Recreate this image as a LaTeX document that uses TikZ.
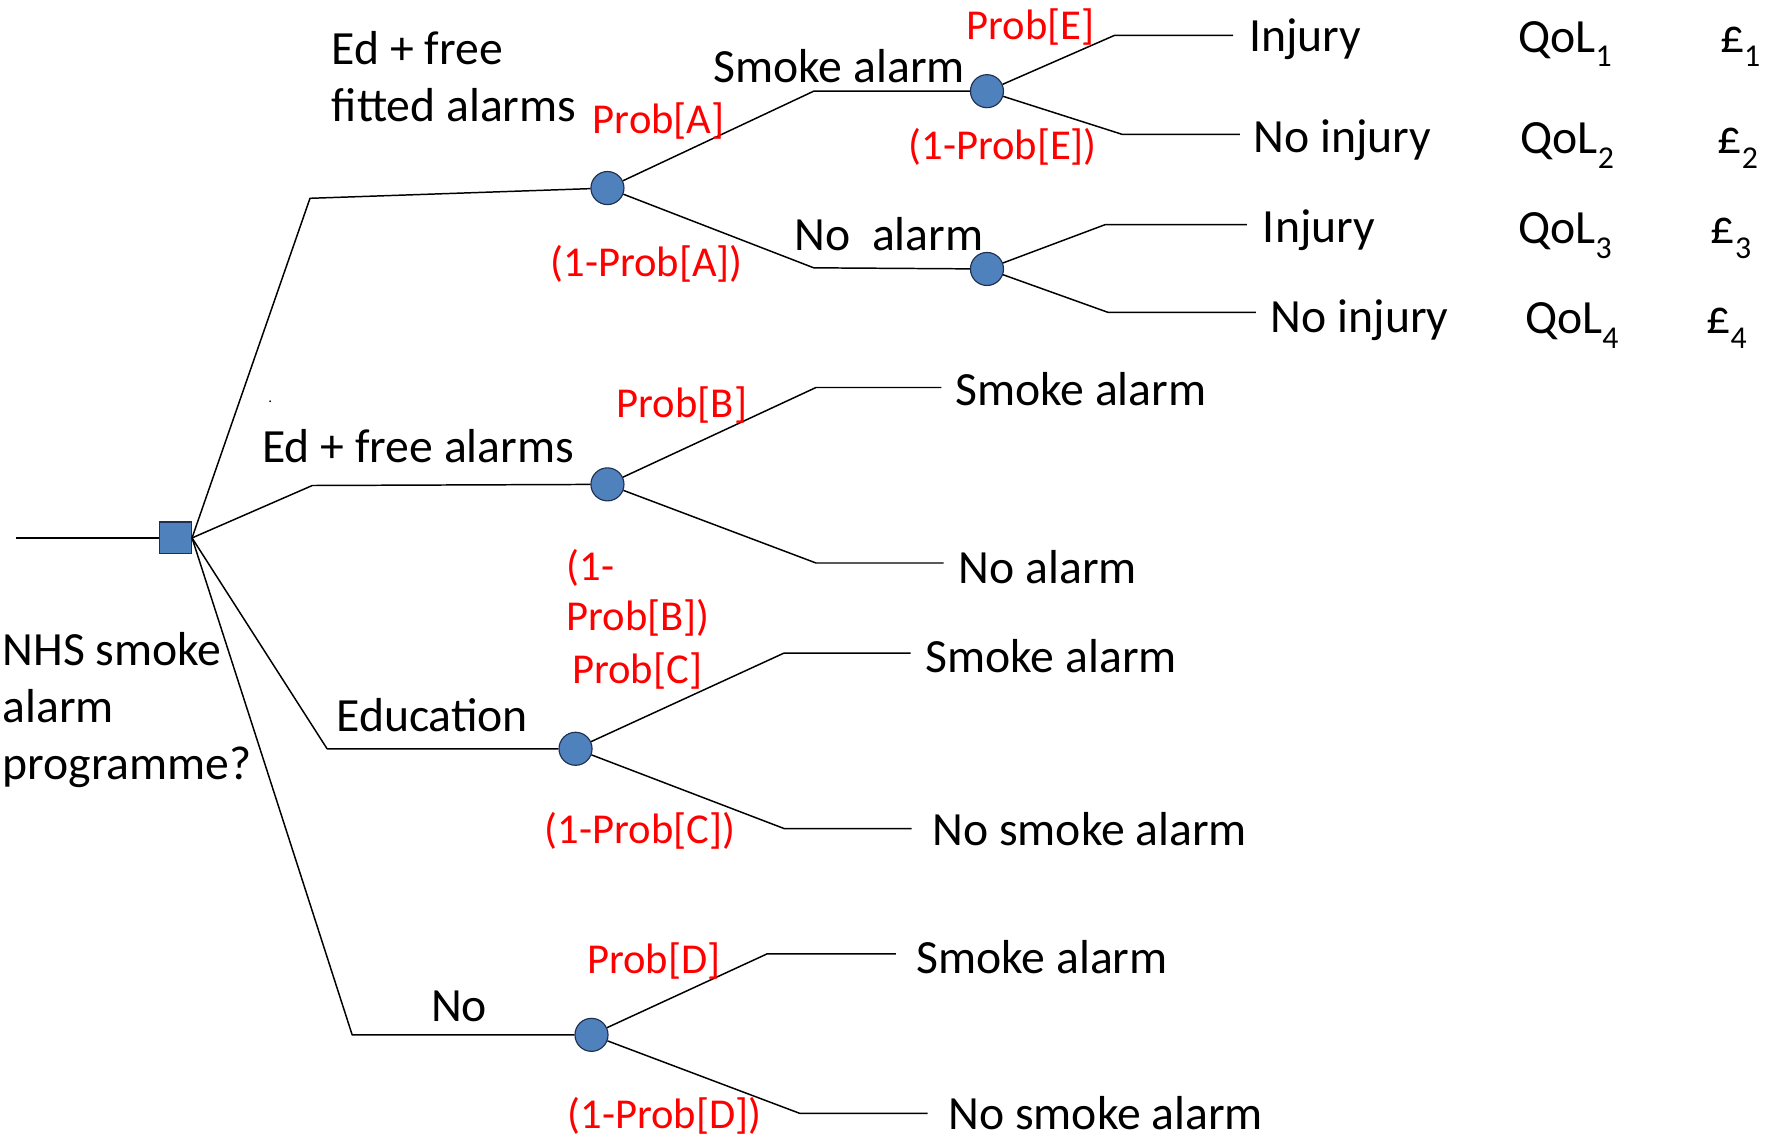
\documentclass[tikz,border=0pt]{standalone}
\usepackage{fontspec}
\setmainfont{Carlito}
\definecolor{nodeblue}{HTML}{4F81BD}
\definecolor{nodeedge}{HTML}{1F2F4F}
\newcommand{\lowidx}[1]{\raisebox{-0.3em}{\fontsize{28}{28}\selectfont #1}}

\begin{document}
\begin{tikzpicture}[x=1bp,y=-1bp,
  branch/.style={line width=1.3bp, black, line join=round},
  decision/.style={rectangle, draw=nodeedge, line width=1bp, fill=nodeblue,
                   minimum size=28bp, inner sep=0},
  chance/.style={circle, draw=nodeedge, line width=1bp, fill=nodeblue,
                 minimum size=29bp, inner sep=0},
  lbl/.style={anchor=base west, inner sep=0, font=\fontsize{42}{50}\selectfont},
  prob/.style={anchor=base west, inner sep=0, text=red, font=\fontsize{37.5}{45}\selectfont}]

\useasboundingbox (0,0) rectangle (1568,999);

% ---------- decision node and the four strategies ----------
\coordinate (root) at (14,472);
\node[decision] (sq) at (154,472) {};
\draw[branch] (root) -- (sq);

\coordinate (b1) at (272,174);
\coordinate (b2) at (274,426);
\coordinate (b3) at (287,657);
\coordinate (b4) at (309,908);

\node[chance] (A) at (533,165) {};
\node[chance] (B) at (533,425) {};
\node[chance] (C) at (505,657) {};
\node[chance] (D) at (519,908) {};

\draw[branch] (sq.east) -- (b1) -- (A);
\draw[branch] (sq.east) -- (b2) -- (B);
\draw[branch] (sq.east) -- (b3) -- (C);
\draw[branch] (sq.east) -- (b4) -- (D);

\fill (237,352) circle (0.9bp);

% ---------- strategy A: alarm, then injury ----------
\node[chance] (E) at (866,80) {};
\node[chance] (F) at (866,236) {};
\coordinate (a1) at (714,80);
\coordinate (a2) at (714,235);
\draw[branch] (A) -- (a1) -- (E);
\draw[branch] (A) -- (a2) -- (F);

\coordinate (e1) at (978,31);   \coordinate (e1x) at (1082,31);
\coordinate (e2) at (985,118);  \coordinate (e2x) at (1088,118);
\coordinate (f1) at (970,197);  \coordinate (f1x) at (1094,197);
\coordinate (f2) at (972,274);  \coordinate (f2x) at (1102,274);
\draw[branch] (E) -- (e1) -- (e1x);
\draw[branch] (E) -- (e2) -- (e2x);
\draw[branch] (F) -- (f1) -- (f1x);
\draw[branch] (F) -- (f2) -- (f2x);

% ---------- strategies B, C, D ----------
\coordinate (bu) at (716,340); \coordinate (bux) at (826,340);
\coordinate (bl) at (716,494); \coordinate (blx) at (828,494);
\coordinate (cu) at (688,573); \coordinate (cux) at (799,573);
\coordinate (cl) at (688,727); \coordinate (clx) at (800,727);
\coordinate (du) at (673,837); \coordinate (dux) at (786,837);
\coordinate (dl) at (702,977); \coordinate (dlx) at (814,977);
\draw[branch] (B) -- (bu) -- (bux);
\draw[branch] (B) -- (bl) -- (blx);
\draw[branch] (C) -- (cu) -- (cux);
\draw[branch] (C) -- (cl) -- (clx);
\draw[branch] (D) -- (du) -- (dux);
\draw[branch] (D) -- (dl) -- (dlx);

% ---------- black labels ----------
\node[lbl] (q1) at (2,584) {NHS smoke};
\node[lbl] (q2) at (2,634) {alarm};
\node[lbl] (q3) at (2,684) {programme?};

\node[lbl] (sa1) at (291,57) {Ed + free};
\node[lbl] (sa2) at (291,107) {fitted alarms};
\node[lbl] (sb) at (230,406) {Ed + free alarms};
\node[lbl] (sc) at (295,642) {Education};
\node[lbl] (sd) at (378,896) {No};

\node[lbl] (la1) at (626,72) {Smoke alarm};
\node[lbl] (la2) at (697,220) {No\ \ alarm};

\node[lbl] (o1) at (1096,45) {Injury};
\node[lbl] (o2) at (1100,134) {No injury};
\node[lbl] (o3) at (1108,213) {Injury};
\node[lbl] (o4) at (1115,292) {No injury};

\node[lbl] (u1) at (1332,46) {QoL\lowidx{1}};
\node[lbl] (u2) at (1334,135) {QoL\lowidx{2}};
\node[lbl] (u3) at (1332,214) {QoL\lowidx{3}};
\node[lbl] (u4) at (1338,293) {QoL\lowidx{4}};

\node[lbl] (c1) at (1509,46) {£\lowidx{1}};
\node[lbl] (c2) at (1507,135) {£\lowidx{2}};
\node[lbl] (c3) at (1501,214) {£\lowidx{3}};
\node[lbl] (c4) at (1497,293) {£\lowidx{4}};

\node[lbl] (ob1) at (838,356) {Smoke alarm};
\node[lbl] (ob2) at (841,512) {No alarm};
\node[lbl] (oc1) at (812,590) {Smoke alarm};
\node[lbl] (oc2) at (818,742) {No smoke alarm};
\node[lbl] (od1) at (804,854) {Smoke alarm};
\node[lbl] (od2) at (832,991) {No smoke alarm};

% ---------- red probabilities ----------
\node[prob] (pa) at (520,117) {Prob[A]};
\node[prob] (qa) at (483,243) {(1-Prob[A])};
\node[prob] (pe) at (848,35) {Prob[E]};
\node[prob] (qe) at (797,140) {(1-Prob[E])};
\node[prob] (pb) at (541,366) {Prob[B]};
\node[prob] (qb1) at (497,509) {(1-};
\node[prob] (qb2) at (497,553) {Prob[B])};
\node[prob] (pc) at (502,600) {Prob[C]};
\node[prob] (qc) at (478,740) {(1-Prob[C])};
\node[prob] (pd) at (515,854) {Prob[D]};
\node[prob] (qd) at (498,990) {(1-Prob[D])};

\end{tikzpicture}
\end{document}
